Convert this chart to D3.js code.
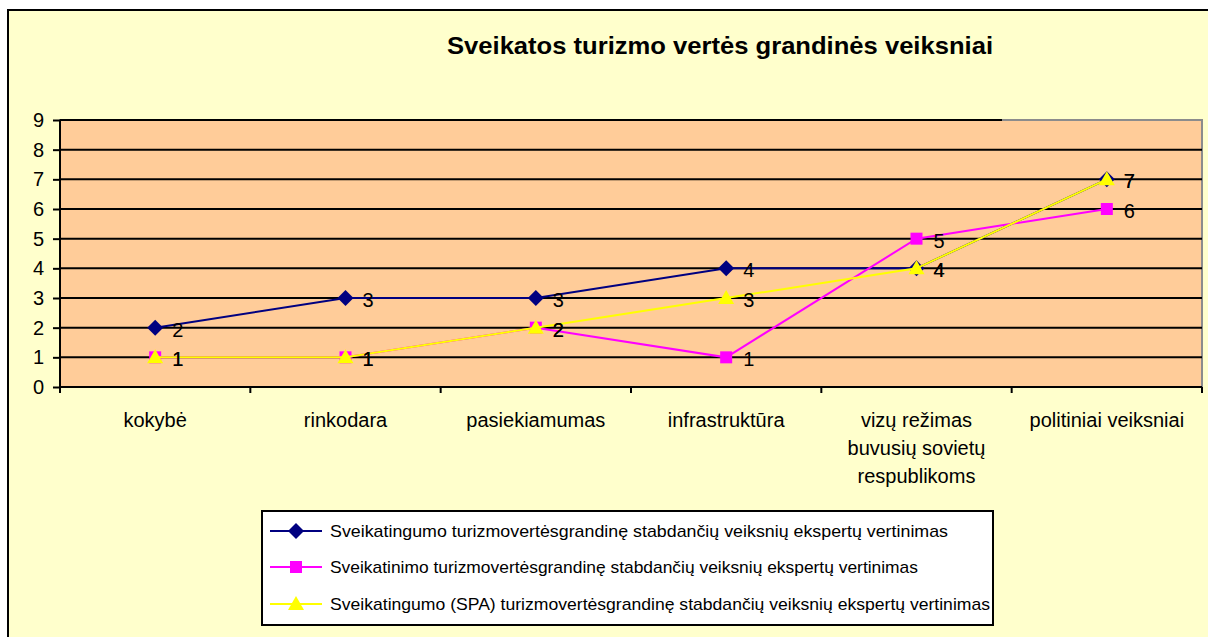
<!DOCTYPE html>
<html>
<head>
<meta charset="utf-8">
<script src="https://cdn.jsdelivr.net/npm/d3@7"></script>
<style>
  html, body { margin: 0; padding: 0; background: #ffffff; }
  svg { display: block; font-family: "Liberation Sans", Arial, sans-serif; }
</style>
</head>
<body>
<svg id="chart" width="1208" height="637"></svg>
<script>
// Categories (x axis), multi-line labels split by "\n"
const categories = [
  "kokybė",
  "rinkodara",
  "pasiekiamumas",
  "infrastruktūra",
  "vizų režimas\nbuvusių sovietų\nrespublikoms",
  "politiniai veiksniai"
];

// Expert ratings per series
const seriesHealthTourism = [2, 3, 3, 4, 4, 7];
const seriesWellnessTourism = [1, 1, 2, 1, 5, 6];
const seriesSpaTourism = [1, 1, 2, 3, 4, 7];

const seriesNames = [
  "Sveikatingumo turizmovertėsgrandinę stabdančių veiksnių ekspertų vertinimas",
  "Sveikatinimo turizmovertėsgrandinę stabdančių veiksnių ekspertų vertinimas",
  "Sveikatingumo (SPA) turizmovertėsgrandinę stabdančių veiksnių ekspertų vertinimas"
];

const yTicks = [0, 1, 2, 3, 4, 5, 6, 7, 8, 9];
const chartTitle = "Sveikatos turizmo vertės grandinės veiksniai";

const svg = d3.select("#chart");

// Chart area
svg.append("rect")
  .attr("x", 8).attr("y", 10)
  .attr("width", 1300).attr("height", 700)
  .attr("fill", "#FFFFCC")
  .attr("stroke", "#000").attr("stroke-width", 2);

const plot = { left: 60, right: 1202, top: 120, bottom: 387 };

const x = d3.scaleBand()
  .domain(categories)
  .range([plot.left, plot.right])
  .padding(0);

const y = d3.scaleLinear()
  .domain([0, 9])
  .range([plot.bottom, plot.top]);

// Plot background
svg.append("rect")
  .attr("x", plot.left).attr("y", plot.top)
  .attr("width", plot.right - plot.left).attr("height", plot.bottom - plot.top)
  .attr("fill", "#FFCC99")
  .attr("stroke", "#8c8c8c").attr("stroke-width", 2);

// Gridlines
svg.append("g")
  .selectAll("line")
  .data(yTicks.filter(t => t > 0))
  .join("line")
  .attr("x1", plot.left)
  .attr("x2", d => d === 9 ? 1002 : plot.right)
  .attr("y1", d => y(d)).attr("y2", d => y(d))
  .attr("stroke", "#000").attr("stroke-width", 2);

// Y axis
const yAxis = d3.axisLeft(y).tickValues(yTicks).tickSize(7).tickPadding(9).tickFormat(d3.format("d"));
const yg = svg.append("g").attr("transform", `translate(${plot.left},0)`).call(yAxis);
yg.select(".domain").attr("stroke", "#000").attr("stroke-width", 2).attr("d", `M0,${plot.top}V${plot.bottom}`);
yg.selectAll(".tick line").attr("stroke", "#000").attr("stroke-width", 2);
yg.selectAll(".tick text").attr("font-size", 20).attr("fill", "#000")
  .attr("font-family", "Liberation Sans, Arial, sans-serif");

// X axis line and tick marks at category boundaries
svg.append("line")
  .attr("x1", plot.left).attr("x2", plot.right)
  .attr("y1", plot.bottom).attr("y2", plot.bottom)
  .attr("stroke", "#000").attr("stroke-width", 2);

const boundaries = categories.map(c => x(c)).concat([plot.right]);
svg.append("g").selectAll("line")
  .data(boundaries)
  .join("line")
  .attr("x1", d => d).attr("x2", d => d)
  .attr("y1", plot.bottom).attr("y2", plot.bottom + 6)
  .attr("stroke", "#000").attr("stroke-width", 2);

// Category labels
const xl = svg.append("g");
categories.forEach(c => {
  const lines = c.split("\n");
  const t = xl.append("text")
    .attr("x", x(c) + x.bandwidth() / 2)
    .attr("y", 427)
    .attr("text-anchor", "middle")
    .attr("font-size", 20)
    .attr("fill", "#000");
  lines.forEach((ln, i) => {
    t.append("tspan")
      .attr("x", x(c) + x.bandwidth() / 2)
      .attr("dy", i === 0 ? 0 : 28)
      .text(ln);
  });
});

// Series definitions
const series = [
  { values: seriesHealthTourism, color: "#000080", shape: "diamond" },
  { values: seriesWellnessTourism, color: "#FF00FF", shape: "square" },
  { values: seriesSpaTourism, color: "#FFFF00", shape: "triangle" }
];

function markerPath(shape) {
  if (shape === "diamond") return "M0,-8L8,0L0,8L-8,0Z";
  if (shape === "square") return "M-6,-6H6V6H-6Z";
  return "M0,-8L8,6H-8Z";
}

const cx = i => x(categories[i]) + x.bandwidth() / 2;

const line = d3.line()
  .x((d, i) => cx(i))
  .y(d => y(d));

series.forEach(s => {
  const g = svg.append("g");
  g.append("path")
    .attr("d", line(s.values))
    .attr("fill", "none")
    .attr("stroke", s.color)
    .attr("stroke-width", 2);
  g.selectAll("path.m")
    .data(s.values)
    .join("path")
    .attr("class", "m")
    .attr("transform", (d, i) => `translate(${cx(i)},${y(d)})`)
    .attr("d", markerPath(s.shape))
    .attr("fill", s.color);
});

// Data labels
series.forEach(s => {
  svg.append("g").selectAll("text")
    .data(s.values)
    .join("text")
    .attr("x", (d, i) => cx(i) + 17)
    .attr("y", d => y(d) + 9)
    .attr("font-size", 20)
    .attr("fill", "#000")
    .text(d => d);
});

// Title
svg.append("text")
  .attr("x", 720).attr("y", 54)
  .attr("text-anchor", "middle")
  .attr("font-size", 24)
  .attr("font-weight", "bold")
  .attr("fill", "#000")
  .attr("textLength", 546)
  .attr("lengthAdjust", "spacingAndGlyphs")
  .text(chartTitle);

// Legend
const legend = svg.append("g");
legend.append("rect")
  .attr("x", 262).attr("y", 511)
  .attr("width", 731).attr("height", 114)
  .attr("fill", "#fff")
  .attr("stroke", "#000").attr("stroke-width", 2);

const legendRows = [531, 567, 604];
const legendWidths = [618, 588, 660];
series.forEach((s, i) => {
  const ly = legendRows[i];
  legend.append("line")
    .attr("x1", 270).attr("x2", 322)
    .attr("y1", ly).attr("y2", ly)
    .attr("stroke", s.color).attr("stroke-width", 2);
  legend.append("path")
    .attr("transform", `translate(296,${ly})`)
    .attr("d", markerPath(s.shape))
    .attr("fill", s.color);
  legend.append("text")
    .attr("x", 330).attr("y", ly + 6)
    .attr("font-size", 17)
    .attr("fill", "#000")
    .attr("textLength", legendWidths[i])
    .attr("lengthAdjust", "spacingAndGlyphs")
    .text(seriesNames[i]);
});
</script>
</body>
</html>
